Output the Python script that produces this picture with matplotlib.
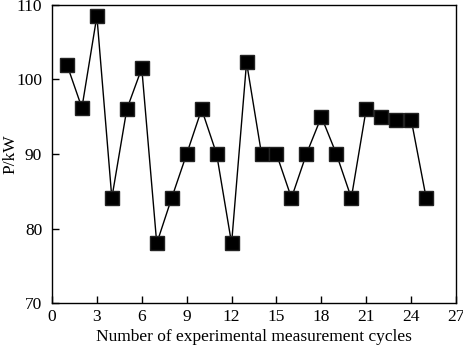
import matplotlib
matplotlib.use("Agg")
import matplotlib.pyplot as plt

cycles = list(range(1, 26))
power = [102, 96.2, 108.5, 84.1, 96, 101.5, 78, 84.1, 90, 96, 90, 78, 102.3,
         90, 90, 84.1, 90, 95, 90, 84.1, 96.1, 95, 94.5, 94.6, 84.1]
xticks = [0, 3, 6, 9, 12, 15, 18, 21, 24, 27]
yticks = [70, 80, 90, 100, 110]

plt.rcParams['font.family'] = ['Liberation Serif', 'DejaVu Serif']
fig = plt.figure(figsize=(4.64, 3.54), dpi=100)
ax = fig.add_axes([0.112, 0.144, 0.871, 0.842])
ax.plot(cycles, power, color='black', lw=1, marker='s', markersize=9.5,
        markerfacecolor='black', markeredgecolor='#222222')
ax.set_xlim(0, 27)
ax.set_ylim(70, 110)
ax.set_xticks(xticks)
ax.set_yticks(yticks)
ax.tick_params(direction='in', length=5, width=1, labelsize=12.5, top=False, right=False)
ax.tick_params(axis='y', pad=7)
ax.tick_params(axis='x', pad=4)
for s in ax.spines.values():
    s.set_linewidth(1)
ax.set_xlabel('Number of experimental measurement cycles', fontsize=12.5, labelpad=3)
ax.set_ylabel('P/kW', fontsize=12.5)
ax.yaxis.set_label_coords(-0.082, 0.5)
fig.savefig('out.png', dpi=100)
